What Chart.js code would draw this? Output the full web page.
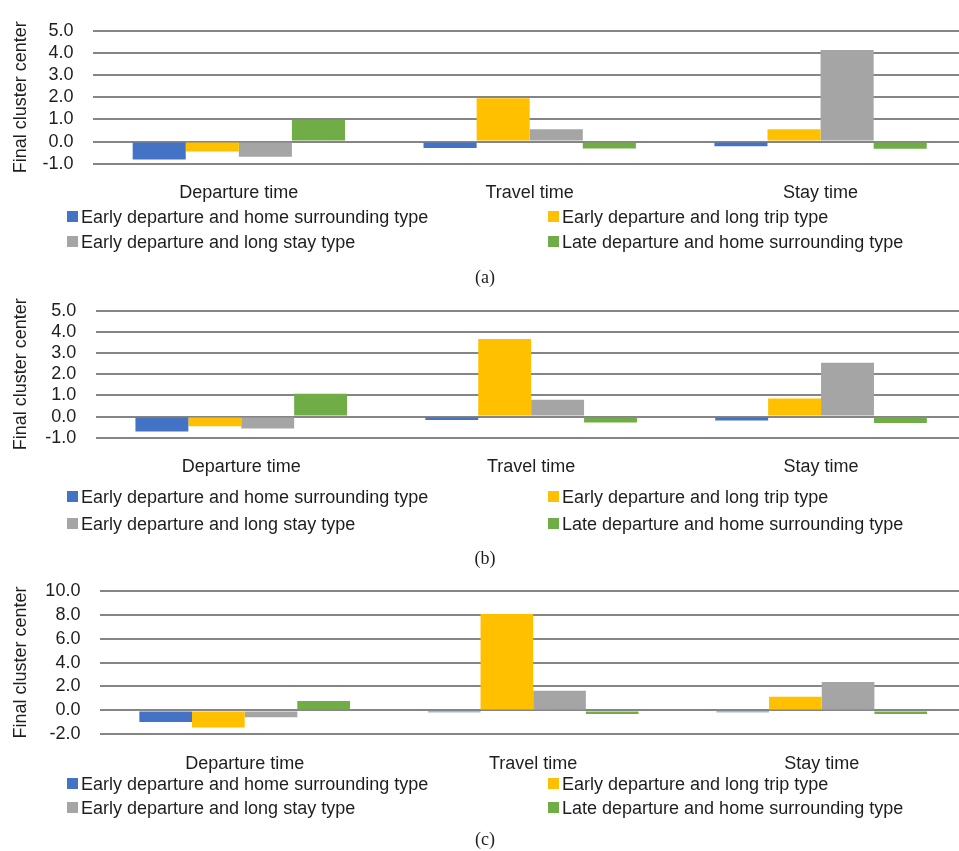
<!DOCTYPE html>
<html>
<head>
<meta charset="utf-8">
<script src="https://cdn.jsdelivr.net/npm/chart.js@4/dist/chart.umd.min.js"></script>
<style>
  html, body { margin: 0; padding: 0; background: #fff; overflow: hidden; width: 959px; height: 851px; }
  .panel { position: absolute; left: 0; }
  .lg { position: absolute; font: 18px "Liberation Sans", Arial, sans-serif; color: #1e1e1e; white-space: nowrap; line-height: 22px; height: 22px; }
  .lg i { position: absolute; width: 11px; height: 11px; top: 5px; }
  .lg span { position: absolute; }
  .cap { position: absolute; font: 18px "Liberation Serif", "Times New Roman", serif; color: #1e1e1e; transform: translate(-50%, -50%); }
</style>
</head>
<body>
<canvas id="cA" class="panel" width="966" height="215" style="top:0px"></canvas>
<canvas id="cB" class="panel" width="966" height="215" style="top:280px"></canvas>
<canvas id="cC" class="panel" width="966" height="215" style="top:560px"></canvas>
<div id="legends"></div>
<div class="cap" style="left:485px; top:277px">(a)</div>
<div class="cap" style="left:485px; top:558px">(b)</div>
<div class="cap" style="left:485px; top:839px">(c)</div>
<script>
// Indicators on the x axis
const categories = ['Departure time', 'Travel time', 'Stay time'];

// Cluster types and their colours
const seriesNames = [
  'Early departure and home surrounding type',
  'Early departure and long trip type',
  'Early departure and long stay type',
  'Late departure and home surrounding type'
];
const seriesColors = ['#4472C4', '#FFC000', '#A5A5A5', '#70AD47'];

// (a) final cluster centers
const aHomeSurrounding = [-0.81, -0.29, -0.21];
const aLongTrip        = [-0.45,  1.96,  0.56];
const aLongStay        = [-0.69,  0.56,  4.13];
const aLateHome        = [ 0.98, -0.31, -0.32];

// (b) final cluster centers
const bHomeSurrounding = [-0.71, -0.16, -0.19];
const bLongTrip        = [-0.46,  3.67,  0.85];
const bLongStay        = [-0.57,  0.79,  2.54];
const bLateHome        = [ 1.08, -0.28, -0.31];

// (c) final cluster centers
const cHomeSurrounding = [-0.98, -0.15, -0.15];
const cLongTrip        = [-1.44,  8.07,  1.14];
const cLongStay        = [-0.57,  1.65,  2.38];
const cLateHome        = [ 0.79, -0.30, -0.30];

// y-axis ranges
const aTicks = { min: -1, max: 5, step: 1 };
const bTicks = { min: -1, max: 5, step: 1 };
const cTicks = { min: -2, max: 10, step: 2 };

const FONT = '"Liberation Sans", Arial, sans-serif';
const TEXT = '#1e1e1e';
const CANVAS_H = 215;

function makePanel(id, series, ticks, layout) {
  const datasets = series.map((vals, i) => ({
    label: seriesNames[i],
    data: vals,
    backgroundColor: seriesColors[i],
    borderWidth: 0,
    categoryPercentage: 0.73,
    barPercentage: 1.0
  }));
  new Chart(document.getElementById(id), {
    type: 'bar',
    data: { labels: categories, datasets },
    options: {
      responsive: false,
      animation: false,
      devicePixelRatio: 1,
      layout: { padding: { top: layout.plotTop, left: 0, right: 0, bottom: 0 } },
      plugins: { legend: { display: false }, tooltip: { enabled: false } },
      scales: {
        x: {
          grid: { display: false },
          border: { display: false },
          ticks: { color: TEXT, font: { family: FONT, size: 18 }, padding: 11, maxRotation: 0, autoSkip: false },
          afterFit: s => { s.height = CANVAS_H - layout.plotBottom; }
        },
        y: {
          min: ticks.min,
          max: ticks.max,
          grid: { color: '#858585', lineWidth: 2, drawTicks: false },
          border: { display: false },
          ticks: {
            stepSize: ticks.step,
            autoSkip: false,
            color: TEXT,
            padding: 20,
            font: { family: FONT, size: 18 },
            callback: v => Number(v).toFixed(1)
          },
          title: {
            display: true,
            text: 'Final cluster center',
            color: TEXT,
            font: { family: FONT, size: 18 },
            padding: { top: 10, bottom: 0 }
          },
          afterFit: s => { s.width = layout.yWidth; }
        }
      }
    }
  });
}

makePanel('cA', [aHomeSurrounding, aLongTrip, aLongStay, aLateHome], aTicks,
  { plotTop: 21, plotBottom: 163.7, yWidth: 93.4 });
makePanel('cB', [bHomeSurrounding, bLongTrip, bLongStay, bLateHome], bTicks,
  { plotTop: 23.7, plotBottom: 157.7, yWidth: 96.3 });
makePanel('cC', [cHomeSurrounding, cLongTrip, cLongStay, cLateHome], cTicks,
  { plotTop: 26.3, plotBottom: 174.3, yWidth: 100.4 });

// Two-column legends under each panel
const legendRows = [[216.7, 242.3], [496.7, 524], [784, 807.7]];
const colX = [67, 548];
const holder = document.getElementById('legends');
legendRows.forEach(rows => {
  seriesNames.forEach((name, i) => {
    const row = Math.floor(i / 2), col = i % 2;
    const d = document.createElement('div');
    d.className = 'lg';
    d.style.left = colX[col] + 'px';
    d.style.top = (rows[row] - 11) + 'px';
    const box = document.createElement('i');
    box.style.background = seriesColors[i];
    box.style.left = '0px';
    const t = document.createElement('span');
    t.textContent = name;
    t.style.left = '14px';
    d.appendChild(box);
    d.appendChild(t);
    holder.appendChild(d);
  });
});
</script>
</body>
</html>
